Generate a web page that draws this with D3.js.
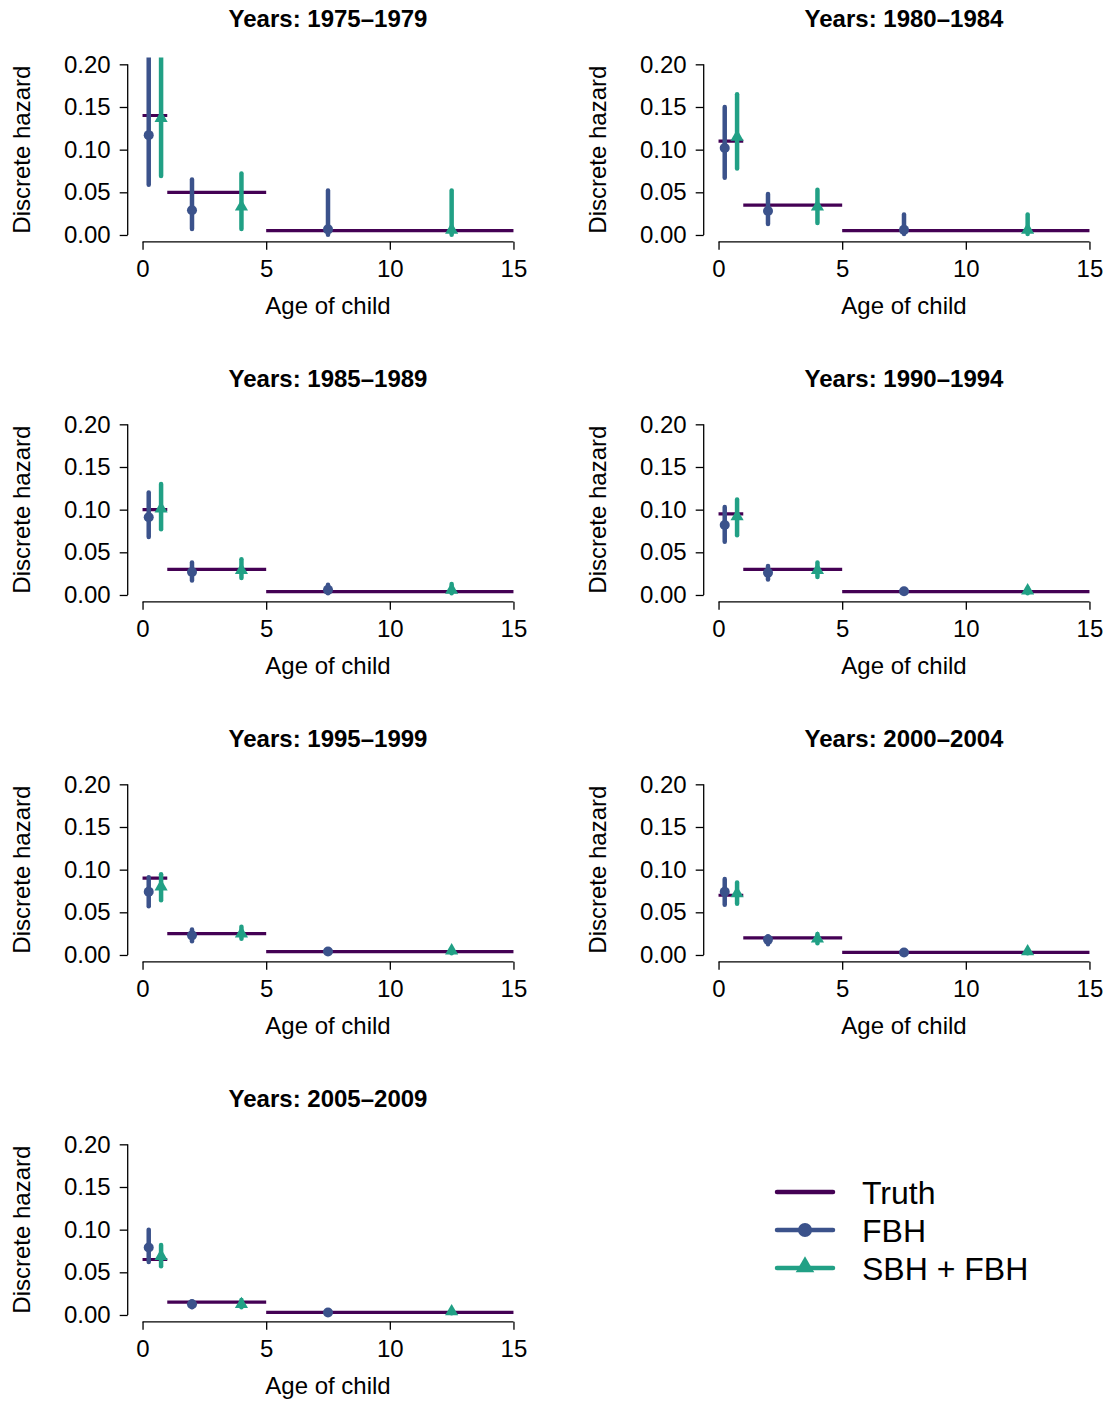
<!DOCTYPE html>
<html>
<head>
<meta charset="utf-8">
<script src="https://cdn.jsdelivr.net/npm/d3@7"></script>
<style>
  html, body { margin: 0; padding: 0; background: #fff; }
  svg { display: block; font-family: "Liberation Sans", Arial, sans-serif; }
</style>
</head>
<body>
<svg id="chart" width="1107" height="1401"></svg>
<script>
// ---------- data ----------
const periods = ["1975\u20131979", "1980\u20131984", "1985\u20131989", "1990\u20131994",
                 "1995\u20131999", "2000\u20132004", "2005\u20132009"];
const ageBreaks = [0, 1, 5, 15];
const fbhAges = [0.25, 2, 7.5];
const sbhAges = [0.75, 4, 12.5];

const truthValues = [
  [0.140, 0.050, 0.005],
  [0.110, 0.035, 0.005],
  [0.100, 0.030, 0.004],
  [0.095, 0.030, 0.004],
  [0.090, 0.025, 0.004],
  [0.070, 0.020, 0.003],
  [0.065, 0.015, 0.003]
];
const fbhEst = [
  [0.117, 0.029, 0.0066],
  [0.102, 0.028, 0.006],
  [0.091, 0.027, 0.006],
  [0.082, 0.026, 0.0043],
  [0.074, 0.023, 0.004],
  [0.074, 0.018, 0.003],
  [0.079, 0.0125, 0.003]
];
const fbhLower = [
  [0.059, 0.007, 0.0004],
  [0.067, 0.013, 0.001],
  [0.068, 0.017, 0.002],
  [0.0625, 0.018, 0.002],
  [0.057, 0.016, 0.002],
  [0.059, 0.0125, 0.002],
  [0.062, 0.009, 0.002]
];
const fbhUpper = [
  [0.250, 0.065, 0.052],
  [0.150, 0.048, 0.024],
  [0.120, 0.038, 0.012],
  [0.103, 0.034, 0.007],
  [0.091, 0.030, 0.006],
  [0.089, 0.022, 0.005],
  [0.100, 0.016, 0.005]
];
const sbhEst = [
  [0.137, 0.033, 0.006],
  [0.115, 0.033, 0.006],
  [0.101, 0.029, 0.006],
  [0.092, 0.029, 0.005],
  [0.080, 0.025, 0.005],
  [0.072, 0.019, 0.004],
  [0.069, 0.0125, 0.004]
];
const sbhLower = [
  [0.069, 0.007, 0.0004],
  [0.078, 0.014, 0.001],
  [0.077, 0.020, 0.002],
  [0.070, 0.021, 0.002],
  [0.064, 0.019, 0.002],
  [0.060, 0.0137, 0.002],
  [0.057, 0.009, 0.002]
];
const sbhUpper = [
  [0.250, 0.072, 0.052],
  [0.165, 0.053, 0.024],
  [0.130, 0.042, 0.013],
  [0.112, 0.038, 0.008],
  [0.0945, 0.033, 0.007],
  [0.085, 0.0245, 0.006],
  [0.082, 0.0175, 0.006]
];
const yTicks = [0, 0.05, 0.10, 0.15, 0.20];
const xTicks = [0, 5, 10, 15];
const legendLabels = ["Truth", "FBH", "SBH + FBH"];

// ---------- style ----------
const colTruth = "#440154";
const colFBH = "#3B528B";
const colSBH = "#21A085";
const FS = 24;

const svg = d3.select("#chart");

const colStep = 576, rowStep = 360;

periods.forEach((p, i) => {
  const col = i % 2, row = Math.floor(i / 2);
  const ox = col * colStep, oy = row * rowStep;

  const x = d3.scaleLinear().domain([-0.6, 15.6]).range([127.7 + ox, 528.3 + ox]);
  const y = d3.scaleLinear().domain([-0.008, 0.208]).range([241.8 + oy, 57.5 + oy]);

  const g = svg.append("g");

  const clipId = "clip" + i;
  svg.append("clipPath").attr("id", clipId)
    .append("rect")
    .attr("x", x(-0.6)).attr("y", y(0.208))
    .attr("width", x(15.6) - x(-0.6)).attr("height", y(-0.008) - y(0.208));

  // title
  g.append("text")
    .attr("x", (x(-0.6) + x(15.6)) / 2).attr("y", 27 + oy)
    .attr("text-anchor", "middle").attr("font-weight", "bold")
    .attr("font-size", FS).text("Years: " + p);

  // y axis
  const yAxis = d3.axisLeft(y).tickValues(yTicks).tickFormat(d3.format(".2f")).tickSize(8).tickPadding(9);
  const ya = g.append("g").attr("transform", `translate(${x(-0.6)},0)`).call(yAxis);
  ya.select(".domain").attr("d", `M0,${y(0)}V${y(0.2)}`).attr("stroke", "#000").attr("stroke-width", 1.3);
  ya.selectAll(".tick line").attr("stroke", "#000").attr("stroke-width", 1.3);
  ya.selectAll(".tick text").attr("font-size", FS).attr("font-family", "Liberation Sans, Arial, sans-serif").attr("fill", "#000");

  // x axis
  const xAxis = d3.axisBottom(x).tickValues(xTicks).tickFormat(d3.format("d")).tickSize(8).tickPadding(10);
  const xa = g.append("g").attr("transform", `translate(0,${y(-0.008)})`).call(xAxis);
  xa.select(".domain").attr("d", `M${x(0)},0H${x(15)}`).attr("stroke", "#000").attr("stroke-width", 1.3);
  xa.selectAll(".tick line").attr("stroke", "#000").attr("stroke-width", 1.3);
  xa.selectAll(".tick text").attr("font-size", FS).attr("font-family", "Liberation Sans, Arial, sans-serif").attr("fill", "#000");

  // axis titles
  g.append("text")
    .attr("x", (x(-0.6) + x(15.6)) / 2).attr("y", 314 + oy)
    .attr("text-anchor", "middle").attr("font-size", FS).text("Age of child");
  g.append("text")
    .attr("transform", `translate(${30 + ox},${(y(-0.008) + y(0.208)) / 2}) rotate(-90)`)
    .attr("text-anchor", "middle").attr("font-size", FS).text("Discrete hazard");

  const plot = g.append("g").attr("clip-path", `url(#${clipId})`);

  // truth segments
  plot.selectAll(".truth").data(truthValues[i]).join("line")
    .attr("x1", (d, k) => x(ageBreaks[k])).attr("x2", (d, k) => x(ageBreaks[k + 1]))
    .attr("y1", d => y(d)).attr("y2", d => y(d))
    .attr("stroke", colTruth).attr("stroke-width", 3.2);

  // FBH intervals and points
  plot.selectAll(".fbhci").data(fbhEst[i]).join("line")
    .attr("x1", (d, k) => x(fbhAges[k])).attr("x2", (d, k) => x(fbhAges[k]))
    .attr("y1", (d, k) => y(fbhLower[i][k])).attr("y2", (d, k) => y(fbhUpper[i][k]))
    .attr("stroke", colFBH).attr("stroke-width", 4.5).attr("stroke-linecap", "round");
  plot.selectAll(".fbhpt").data(fbhEst[i]).join("circle")
    .attr("cx", (d, k) => x(fbhAges[k])).attr("cy", d => y(d)).attr("r", 5)
    .attr("fill", colFBH);

  // SBH + FBH intervals and points
  plot.selectAll(".sbhci").data(sbhEst[i]).join("line")
    .attr("x1", (d, k) => x(sbhAges[k])).attr("x2", (d, k) => x(sbhAges[k]))
    .attr("y1", (d, k) => y(sbhLower[i][k])).attr("y2", (d, k) => y(sbhUpper[i][k]))
    .attr("stroke", colSBH).attr("stroke-width", 4.5).attr("stroke-linecap", "round");
  const tri = d3.symbol().type(d3.symbolTriangle).size(75);
  plot.selectAll(".sbhpt").data(sbhEst[i]).join("path")
    .attr("d", tri)
    .attr("transform", (d, k) => `translate(${x(sbhAges[k])},${y(d)})`)
    .attr("fill", colSBH);
});

// ---------- legend ----------
const legY = [1192, 1230, 1268];
const legCols = [colTruth, colFBH, colSBH];
const lg = svg.append("g");
legendLabels.forEach((lab, k) => {
  lg.append("line").attr("x1", 777).attr("x2", 833).attr("y1", legY[k]).attr("y2", legY[k])
    .attr("stroke", legCols[k]).attr("stroke-width", 4.5).attr("stroke-linecap", "round");
  if (k === 1) {
    lg.append("circle").attr("cx", 805).attr("cy", legY[k]).attr("r", 7).attr("fill", legCols[k]);
  } else if (k === 2) {
    lg.append("path").attr("d", d3.symbol().type(d3.symbolTriangle).size(150))
      .attr("transform", `translate(805,${legY[k] - 1})`).attr("fill", legCols[k]);
  }
  lg.append("text").attr("x", 862).attr("y", legY[k] + 12).attr("font-size", 32).text(lab);
});
</script>
</body>
</html>
